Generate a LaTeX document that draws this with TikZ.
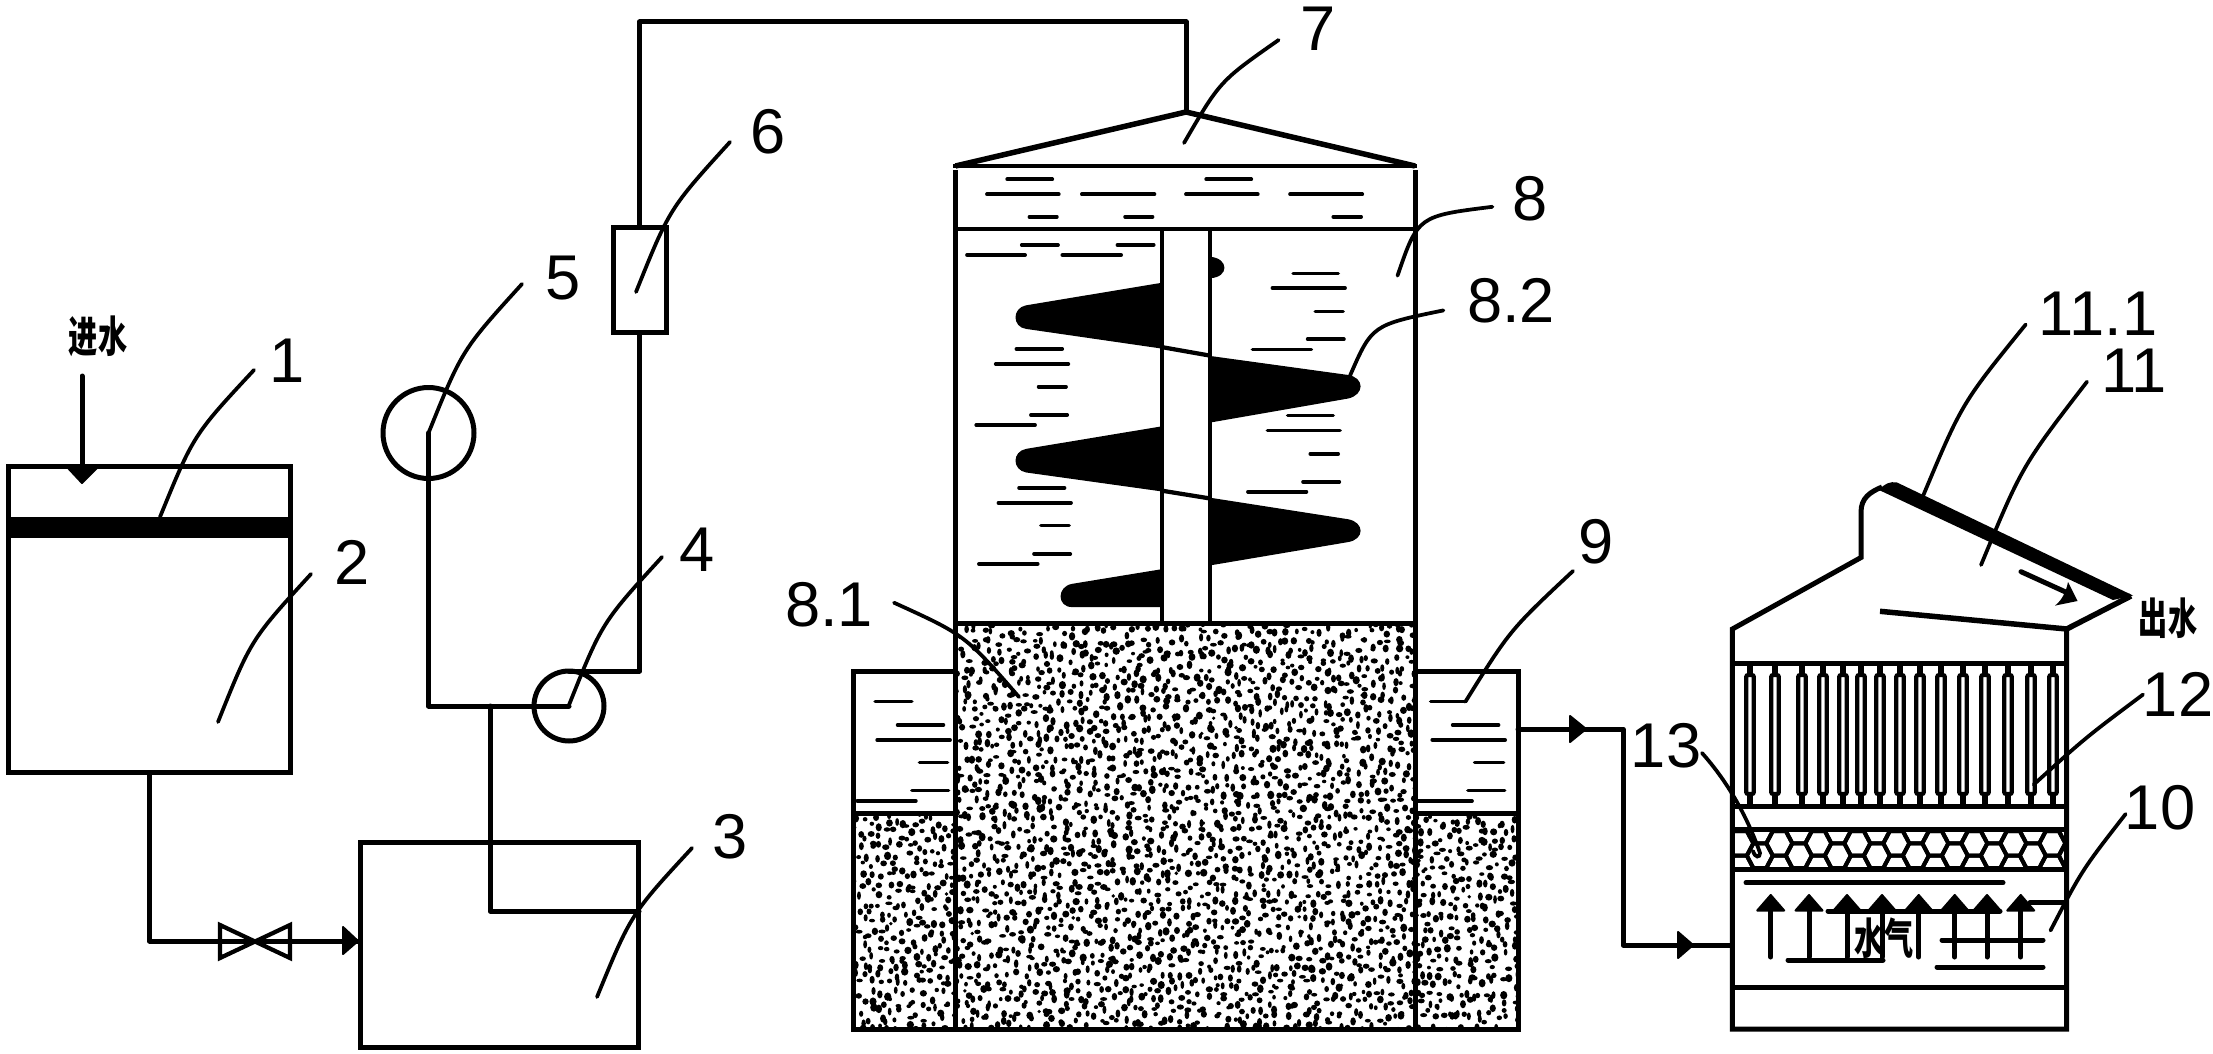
\documentclass[tikz,border=0pt]{standalone}
\usepackage{fontspec}
\setmainfont{Liberation Sans}
\newfontfamily\cjk{Noto Sans CJK SC}
\usetikzlibrary{calc}
\tikzset{
  pipe/.style={line width=1mm,line cap=round,line join=round},
  wall/.style={line width=1mm,line join=miter,line cap=butt},
  thinwall/.style={line width=0.85mm,line cap=butt},
  leader/.style={line width=0.75mm,line cap=round},
  hatchline/.style={line width=0.72mm,line cap=round},
  labeltext/.style={inner sep=0pt,outer sep=0pt,font=\fontsize{36pt}{37pt}\selectfont},
  cjktext/.style={inner sep=0pt,outer sep=0pt,xscale=.68,font=\cjk\bfseries\fontsize{24.4pt}{25pt}\selectfont},
  vessel/.style={draw,line width=1mm,inner sep=0pt,outer sep=0pt,rectangle},
  pump/.style={draw,line width=1mm,inner sep=0pt,outer sep=0pt,circle},
  tip/.style={fill=black,draw=black,line width=.4mm,line join=round},
  finfill/.style={fill=black,draw=black,line width=.3mm,line join=round}
}
\newcommand{\leaderq}[4]{\coordinate (#1s) at (#2); \coordinate (#1e) at (#4); \draw[leader] (#1s) .. controls (#3) .. (#1e);}
\newcommand{\sandblock}[4]{%
\begin{scope}
\clip (#1,#2) rectangle (#3,#4);
\pgfmathtruncatemacro{\ga}{#1-5}\pgfmathtruncatemacro{\gb}{#1+4}\pgfmathtruncatemacro{\gc}{#3+5}
\pgfmathtruncatemacro{\gd}{#2-5}\pgfmathtruncatemacro{\ge}{#2+4}\pgfmathtruncatemacro{\gf}{#4+5}
\foreach \gx in {\ga,\gb,...,\gc}{
  \foreach \gy in {\gd,\ge,...,\gf}{
    \pgfmathsetmacro{\px}{\gx+9*rnd}
    \pgfmathsetmacro{\py}{\gy+9*rnd}
    \pgfmathsetmacro{\rx}{1.8+1.9*rnd}
    \pgfmathsetmacro{\ry}{1.8+2.5*rnd}
    \fill (\px,\py) ellipse [x radius=\rx,y radius=\ry];
  }
}
\end{scope}}
\begin{document}
\begin{tikzpicture}[x=0.02cm,y=-0.02cm]
\useasboundingbox (0,0) rectangle (2213,1054);
\fill[white] (0,0) rectangle (2213,1054);

% ---------- sand ----------
\pgfmathsetseed{4242}
\sandblock{955}{623}{1415}{1029}
\sandblock{853}{813}{955}{1029}
\sandblock{1415}{813}{1518}{1029}

% ---------- equipment on the left ----------
\node[vessel,minimum width=5.66cm,minimum height=6.12cm] (tank) at (149.5,619.6) {};
\fill (8,517) rectangle (291,538);
\node[vessel,minimum width=5.58cm,minimum height=4.096cm] (boxthree) at (499.5,945) {};
\node[vessel,minimum width=1.06cm,minimum height=2.12cm] (meter) at (639.5,280) {};
\node[pump,minimum size=1.82cm] (pumpfive) at (428.5,433) {};
\node[pump,minimum size=1.40cm] (pumpfour) at (569,706) {};

\coordinate (inletstart) at (82,376);
\coordinate (inletend) at (82,467);
\coordinate (boxin) at (360,941);
\coordinate (junction) at (490,706);
\coordinate (boxsuction) at (639,911);
\coordinate (pipetop) at (1186,22);
\coordinate (apex) at (1186,112);
\draw[pipe] (inletstart) -- (inletend);
\draw[tip] (68,468) -- (97,468) -- (82,483) -- cycle;
\draw[pipe] (tank.south) |- (boxin);
\draw[tip] (343,927) -- (358,941) -- (343,954) -- cycle;
\draw[line width=.85mm,line join=miter] (220,925) -- (290,958) -- (290,925) -- (220,958) -- cycle;
\draw[pipe] (pumpfive.center) |- (pumpfour.center);
\draw[pipe] (junction) |- (boxsuction);
\draw[pipe] (pumpfour.north) -| (meter.south);
\draw[pipe] (meter.north) |- (pipetop) -- (apex);

% ---------- reactor ----------
\draw[wall] (955.5,170) -- (955.5,1029) (1415,170) -- (1415,1029);
\draw[line width=1.1mm,line join=round] (955.5,166) -- (apex) -- (1415,166);
\draw[thinwall] (953,166) -- (1417,166);
\draw[wall] (953,229) -- (1417,229);
\draw[wall] (953,623) -- (1417,623);
\draw[thinwall] (1162,229) -- (1162,623) (1210,229) -- (1210,623);
% side basin
\draw[wall] (955,671) -- (853,671) -- (853,1029) -- (1518,1029) -- (1518,671) -- (1415,671);
\draw[wall] (853,813) -- (955,813) (1415,813) -- (1518,813);

\begin{scope}[shift={(900,80)},xscale=0.3827,yscale=0.3571]
\foreach \hy/\ha/\hb in {278/280/398,278/800/918,320/227/415,320/475/665,320/747/935,320/1019/1208,383/338/410,383/588/660,383/1132/1205,
 462/318/413,462/568/663,490/175/327,490/424/578,
 542/1027/1145,583/973/1163,648/1085/1158,726/1065/1160,755/921/1075,
 753/304/424,795/250/440,859/362/434,938/342/437,966/199/353,
 940/1013/1132,982/960/1150,1047/1072/1145,1125/1053/1148,1153/909/1062,
 1142/311/430,1184/257/447,1248/368/442,1327/350/445,1355/206/360}
  {\draw[hatchline] (\ha,\hy) -- (\hb,\hy);}
% fins
\draw[finfill] (684,570) -- (330,633) .. controls (295,640) and (295,690) .. (330,695) -- (684,750) -- cycle;
\draw[finfill] (811,775) -- (1170,828) .. controls (1212,835) and (1212,880) .. (1170,890) -- (811,957) -- cycle;
\draw[finfill] (684,972) -- (330,1035) .. controls (295,1042) and (295,1090) .. (330,1097) -- (684,1150) -- cycle;
\draw[finfill] (811,1172) -- (1170,1232) .. controls (1212,1240) and (1212,1285) .. (1170,1292) -- (811,1357) -- cycle;
\draw[finfill] (684,1372) -- (450,1413) .. controls (412,1420) and (412,1474) .. (450,1474) -- (684,1474) -- cycle;
\draw[thinwall] (684,748) -- (811,772);
\draw[thinwall] (684,1150) -- (811,1172);
\fill (811,495) .. controls (860,500) and (860,552) .. (811,555) -- cycle;
\end{scope}

% side basin hatch
\begin{scope}[shift={(820,600)},xscale=0.5102,yscale=0.3333]
\foreach \hy/\ha/\hb in {305/108/180,375/152/242,420/112/255,488/195/250,572/180/252,603/73/188,
 305/1197/1265,375/1240/1330,420/1200/1343,488/1283/1340,572/1270/1342,603/1170/1278}
  {\draw[hatchline] (\ha,\hy) -- (\hb,\hy);}
\end{scope}

% outlet pipe
\coordinate (basinout) at (1518,729);
\coordinate (pipebend) at (1623,729);
\coordinate (towerin) at (1732,945);
\draw[pipe] (basinout) -- (pipebend) |- (towerin);
\draw[tip] (1570,716) -- (1586,729) -- (1570,742) -- cycle;
\draw[tip] (1678,932) -- (1693,945) -- (1678,958) -- cycle;

% ---------- tower ----------
\draw[wall] (2066.7,629) -- (2066.7,1029) -- (1732.4,1029) -- (1732.4,629) -- (1861,557.5) -- (1861,512) .. controls (1861,498) and (1870,492) .. (1882,487);
\draw[wall] (1730,663) -- (2069,663) (1730,806) -- (2069,806) (1730,829) -- (2069,829) (1730,869.5) -- (2069,869.5) (1730,987) -- (2069,987);
\fill (1879,490) .. controls (1884,484) and (1890,481) .. (1897,482.5) -- (2133,595.5) -- (2113,600) -- cycle;
\draw[line width=1.1mm,line join=miter] (2131,596) -- (2066.7,629) -- (1880,611.3);
\draw[pipe] (2021,571.7) -- (2070,594);
\fill (2068,582) -- (2077.5,601) -- (2055,605.6) .. controls (2062,600) and (2066,592) .. (2068,582) -- cycle;

\foreach \tb in {1750,1775,1802,1823,1843,1861,1880,1900,1920,1941,1963,1985,2008,2031,2053}{
  \draw[line width=1.05mm] (\tb,663) -- (\tb,675) (\tb,794) -- (\tb,806);
  \draw[line width=.85mm,rounded corners=.4mm] (\tb-3.8,675) rectangle (\tb+3.8,794);
}
\begin{scope}
\clip (1732,829) rectangle (2067,869.5);
\foreach \cy/\cs in {843.3/1779.3,818.7/1779.3,868/1779.3,855.7/1798.8,831/1798.8}{
  \foreach \ci in {-2,...,8}{
    \pgfmathsetmacro{\cx}{\cs+39*\ci}
    \draw[line width=.8mm,line join=miter] (\cx-13,\cy) -- (\cx-6.5,\cy-12.3) -- (\cx+6.5,\cy-12.3) -- (\cx+13,\cy) -- (\cx+6.5,\cy+12.3) -- (\cx-6.5,\cy+12.3) -- cycle;
  }
}
\end{scope}
\draw[pipe] (1746,882.7) -- (2003,882.7);
\foreach \ax in {1770.7,1809,1847,1882,1918.7,1954.7,1987,2020.7}{
  \draw[pipe] (\ax,905) -- (\ax,957);
  \draw[tip] (\ax,895) -- (\ax+13.5,910.5) -- (\ax-13.5,910.5) -- cycle;
}
\draw[pipe] (1828,911) -- (2000,911);
\draw[pipe] (1788,960) -- (1883,960);
\draw[pipe] (1942,940) -- (2043,940);
\draw[pipe] (1937,967) -- (2043,967);
\draw[pipe] (2030,902.7) -- (2066,902.7);

% ---------- texts ----------
\node[cjktext] (tin) at (98,336) {进水};
\node[cjktext] (tout) at (2168,618) {出水};
\node[cjktext] (tsteam) at (1884,938) {水气};
\node[labeltext] (n1) at (287,361) {1};
\node[labeltext] (n2) at (352,562) {2};
\node[labeltext] (n3) at (730,837) {3};
\node[labeltext] (n4) at (697,550) {4};
\node[labeltext] (n5) at (563,278) {5};
\node[labeltext] (n6) at (768,132) {6};
\node[labeltext] (n7) at (1318,29) {7};
\node[labeltext] (n8) at (1530,199) {8};
\node[labeltext] (n82) at (1511,301) {8.2};
\node[labeltext] (n81) at (829,605) {8.1};
\node[labeltext] (n9) at (1596,542) {9};
\node[labeltext] (n10) at (2160,808) {10};
\node[labeltext] (n11) at (2134,371) {11};
\node[labeltext] (n111) at (2098,313.5) {11.1};
\node[labeltext] (n12) at (2178,694.5) {12};
\node[labeltext] (n13) at (1666,746) {13};

% ---------- leaders ----------
\leaderq{la}{254,370}{193.5,435}{160,517}
\leaderq{lb}{311,574}{251,639.5}{218,722}
\leaderq{lc}{692,848}{631,914}{597,997}
\leaderq{ld}{662,557}{602,622.5}{569,705}
\leaderq{le}{522,284}{462,350}{428.5,433}
\leaderq{lf}{730,142}{669.5,208.5}{636,292}
\leaderq{lg}{1278.6,40}{1220,81}{1184,143}
\leaderq{lh}{1492.4,206.8}{1418,216}{1397.5,275.7}
\leaderq{li}{1443.4,310.4}{1372,325}{1349.7,376.4}
\leaderq{lj}{894,602.7}{965,635}{1019,697}
\leaderq{lk}{1573,571}{1510,630}{1465.4,701.7}
\leaderq{ll}{2125.6,814}{2082,870}{2050.5,930.5}
\leaderq{lm}{2087,381.7}{2022,466}{1981,565}
\leaderq{ln}{2025.7,324.5}{1962,403}{1923,496}
\leaderq{lo}{2143,694.5}{2085,738}{2033.7,784.6}
\coordinate (lps) at (1702,753);
\coordinate (lpe) at (1753,851);
\draw[leader] (lps) .. controls (1735,790) and (1752,830) .. (1760,853) .. controls (1760,858) and (1755,858) .. (lpe);
\end{tikzpicture}
\end{document}
